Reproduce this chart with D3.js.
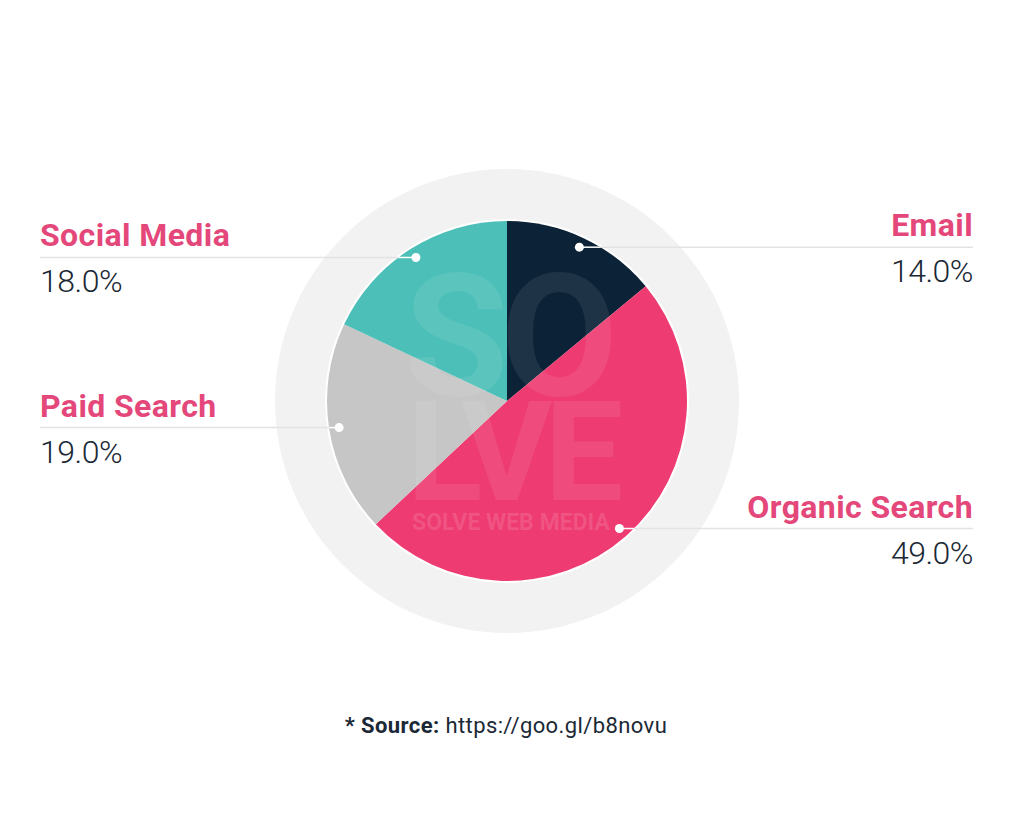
<!DOCTYPE html>
<html>
<head>
<meta charset="utf-8">
<script src="https://cdn.jsdelivr.net/npm/d3@7"></script>
<style>
  html, body { margin: 0; padding: 0; background: #ffffff; }
  svg { display: block; }
</style>
</head>
<body>
<svg id="chart" width="1014" height="827"></svg>
<script>
// Traffic share by channel
const channels = ["Email", "Organic Search", "Paid Search", "Social Media"];
const shares = [14.0, 49.0, 19.0, 18.0];
const sliceColors = ["#0c2237", "#ee3c72", "#c6c6c6", "#4cbfb8"];
const labelSide = ["right", "right", "left", "left"];
const sourceLabel = "* Source:";
const sourceUrl = "https://goo.gl/b8novu";

const W = 1014, H = 827;
const cx = 507, cy = 401;
const rRing = 232, rPie = 180, rDot = 170;
const leftX = 40, rightX = 973;
const FONT = "Roboto, 'DejaVu Sans', sans-serif";

const svg = d3.select("#chart");

const data = channels.map((c, i) => ({ name: c, value: shares[i], color: sliceColors[i], side: labelSide[i] }));

const pie = d3.pie().value(d => d.value).sort(null);
const arcs = pie(data);
const arc = d3.arc().innerRadius(0).outerRadius(rPie);

const g = svg.append("g").attr("transform", `translate(${cx},${cy})`);

// background ring
g.append("circle").attr("r", rRing).attr("fill", "#f2f2f2");
// thin white rim around the pie
g.append("circle").attr("r", rPie + 2).attr("fill", "#ffffff");

g.selectAll("path.slice").data(arcs).join("path")
  .attr("class", "slice")
  .attr("d", arc)
  .attr("fill", d => d.data.color);

// faint brand mark over the pie (one text block)
const mark = g.append("text")
  .attr("fill", "#ffffff")
  .attr("font-family", FONT)
  .attr("font-weight", 700)
  .attr("text-anchor", "middle");
mark.append("tspan").attr("x", 0).attr("y", -6)
  .attr("font-size", 170).attr("fill-opacity", 0.08).attr("letter-spacing", -8).text("SO");
mark.append("tspan").attr("x", 4).attr("y", 99)
  .attr("font-size", 140).attr("fill-opacity", 0.08).attr("letter-spacing", -8).text("LVE");
mark.append("tspan").attr("x", 4).attr("y", 129)
  .attr("font-size", 23).attr("fill-opacity", 0.12).text("SOLVE WEB MEDIA");

// leader lines and labels
const labels = svg.append("g");
arcs.forEach(a => {
  const mid = (a.startAngle + a.endAngle) / 2;
  const dx = cx + rDot * Math.sin(mid);
  const dy = cy - rDot * Math.cos(mid);
  const right = a.data.side === "right";
  const endX = right ? rightX : leftX;
  // edge of the pie along the leader's row
  const edge = Math.sqrt(Math.max(rPie * rPie - (dy - cy) * (dy - cy), 0));
  const pieEdgeX = right ? cx + edge : cx - edge;

  labels.append("line")
    .attr("x1", pieEdgeX).attr("y1", dy).attr("x2", endX).attr("y2", dy)
    .attr("stroke", "#e3e3e3").attr("stroke-width", 1.5);
  labels.append("line")
    .attr("x1", dx).attr("y1", dy).attr("x2", pieEdgeX).attr("y2", dy)
    .attr("stroke", "#ffffff").attr("stroke-width", 1.5);
  labels.append("circle").attr("cx", dx).attr("cy", dy).attr("r", 4.5)
    .attr("fill", "#ffffff");

  labels.append("text")
    .attr("x", endX).attr("y", dy - 11)
    .attr("text-anchor", right ? "end" : "start")
    .attr("font-family", FONT)
    .attr("font-weight", 700).attr("font-size", 32)
    .attr("letter-spacing", 0.4)
    .attr("fill", "#e4487a")
    .text(a.data.name);
  labels.append("text")
    .attr("x", endX).attr("y", dy + 35)
    .attr("text-anchor", right ? "end" : "start")
    .attr("font-family", FONT)
    .attr("font-weight", 300).attr("font-size", 32)
    .attr("letter-spacing", -0.5)
    .attr("fill", "#1b2835")
    .text(d3.format(".1f")(a.data.value) + "%");
});

// source note
const src = svg.append("text")
  .attr("x", 506).attr("y", 733).attr("text-anchor", "middle")
  .attr("font-family", FONT)
  .attr("font-size", 22).attr("letter-spacing", 0.4).attr("fill", "#1b2835");
src.append("tspan").attr("font-weight", 700).text(sourceLabel + " ");
src.append("tspan").attr("font-weight", 400).text(sourceUrl);
</script>
</body>
</html>
